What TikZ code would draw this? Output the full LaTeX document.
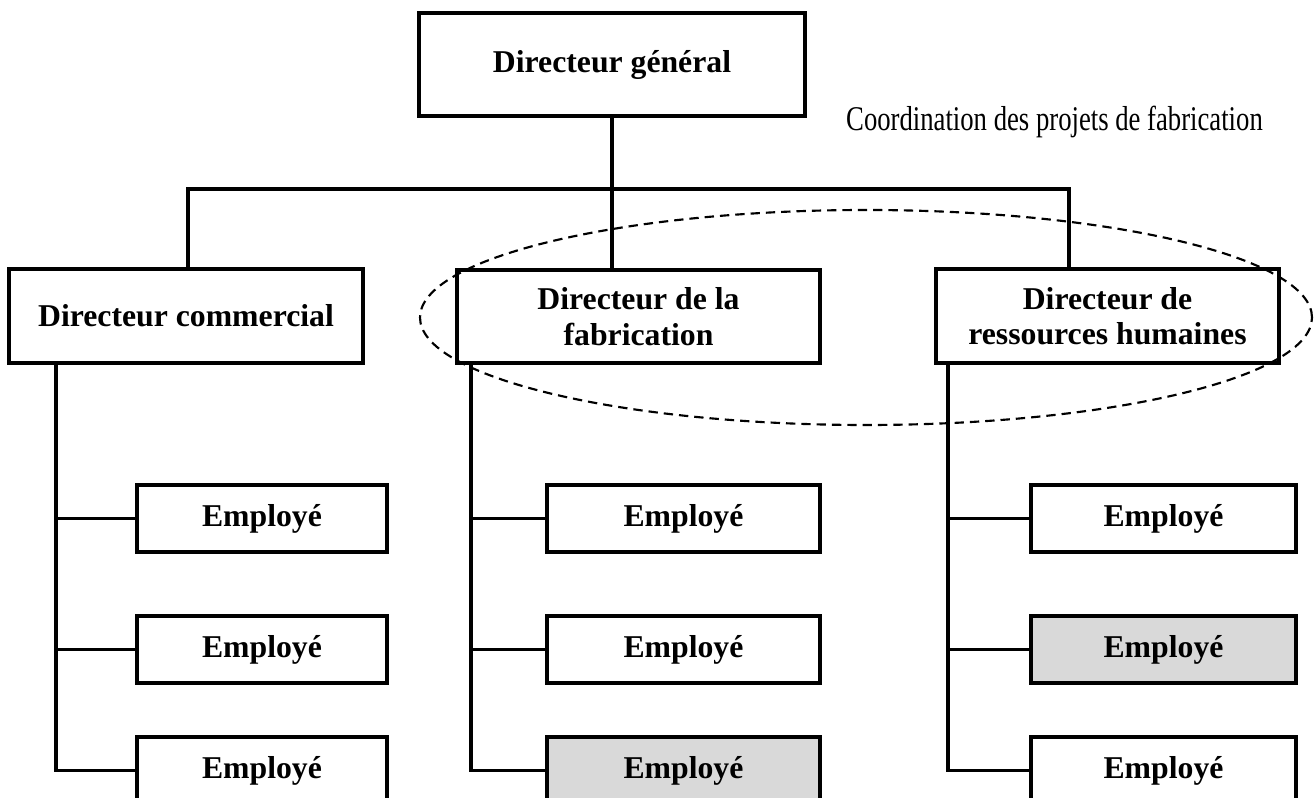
\documentclass[tikz,border=0pt]{standalone}
\usepackage{fontspec}
\setmainfont{Liberation Serif}
\usepackage{graphicx}
\definecolor{staffgray}{HTML}{D9D9D9}
\newlength\px
\setlength\px{0.75pt}
\begin{document}
\begin{tikzpicture}[x=0.75pt,y=-0.75pt,
  box/.style={draw, line width=3pt, fill=white, inner sep=0pt, align=center,
    font=\fontsize{23.8}{26.5}\selectfont\bfseries},
  staff/.style={box, minimum height=67\px},
  shaded/.style={fill=staffgray},
  link/.style={line width=2.6pt, line join=miter},
  group/.style={line width=1.6pt, dash pattern=on 7pt off 4.5pt}]
\useasboundingbox (0,0) rectangle (1314,798);
\clip (0,0) rectangle (1314,798);

% management
\node[box, minimum width=386\px, minimum height=103\px] (dg) at (612,64.5) {Directeur général};
\node[box, minimum width=354\px, minimum height=94\px] (com) at (186,316) {Directeur commercial};
\node[box, minimum width=363\px, minimum height=93\px] (fab) at (638.5,316.5) {Directeur de la\\fabrication};
\node[box, minimum width=343\px, minimum height=94\px] (rh) at (1107.5,316) {Directeur de\\ressources humaines};

% staff, left column
\node[staff, minimum width=250\px] (c1) at (262,518.5) {Employé};
\node[staff, minimum width=250\px] (c2) at (262,649.5) {Employé};
\node[staff, minimum width=250\px] (c3) at (262,770.5) {Employé};
% staff, middle column
\node[staff, minimum width=273\px] (f1) at (683.5,518.5) {Employé};
\node[staff, minimum width=273\px] (f2) at (683.5,649.5) {Employé};
\node[staff, shaded, minimum width=273\px] (f3) at (683.5,770.5) {Employé};
% staff, right column
\node[staff, minimum width=265\px] (r1) at (1163.5,518.5) {Employé};
\node[staff, shaded, minimum width=265\px] (r2) at (1163.5,649.5) {Employé};
\node[staff, minimum width=265\px] (r3) at (1163.5,770.5) {Employé};

% reporting lines from the top
\coordinate (busL) at (188,189);
\coordinate (busR) at (1069,189);
\draw[link] (dg.south) -- (dg.south |- fab.north);
\draw[link] (busL |- com.north) -- (busL) -- (busR) -- (busR |- rh.north);

% column spines
\coordinate (sc) at (56,0);
\coordinate (sf) at (471,0);
\coordinate (sr) at (948,0);
\draw[link] (com.south -| sc) -- (c3.west -| sc) -- (c3.west);
\draw[link] (c1.west -| sc) -- (c1.west);
\draw[link] (c2.west -| sc) -- (c2.west);
\draw[link] (fab.south -| sf) -- (f3.west -| sf) -- (f3.west);
\draw[link] (f1.west -| sf) -- (f1.west);
\draw[link] (f2.west -| sf) -- (f2.west);
\draw[link] (rh.south -| sr) -- (r3.west -| sr) -- (r3.west);
\draw[link] (r1.west -| sr) -- (r1.west);
\draw[link] (r2.west -| sr) -- (r2.west);

% coordination group
\draw[group] (866,317.5) ellipse [x radius=446\px, y radius=107.5\px];
\node[anchor=base, inner sep=0pt, font=\fontsize{26}{30}\selectfont] (coord) at (1054.5,131)
  {\scalebox{0.77}[1]{Coordination des projets de fabrication}};
\end{tikzpicture}
\end{document}
